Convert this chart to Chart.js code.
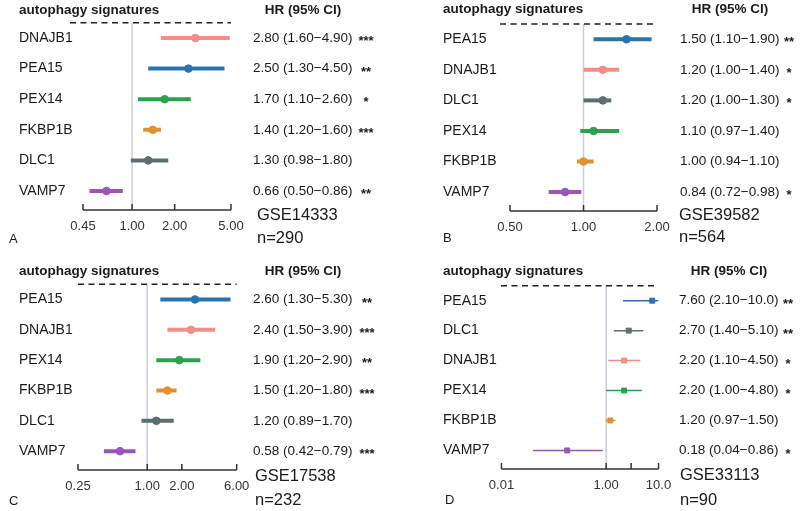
<!DOCTYPE html>
<html>
<head>
<meta charset="utf-8">
<script src="https://cdn.jsdelivr.net/npm/chart.js@4.4.0/dist/chart.umd.min.js"></script>
<style>
  html, body { margin: 0; padding: 0; background: #fff; }
  #wrap { position: relative; width: 800px; height: 511px; }
  canvas { position: absolute; }
</style>
</head>
<body>
<div id="wrap">
  <canvas id="chartA" width="400" height="255" style="left:0;top:0"></canvas>
  <canvas id="chartB" width="400" height="255" style="left:400px;top:0"></canvas>
  <canvas id="chartC" width="400" height="256" style="left:0;top:255px"></canvas>
  <canvas id="chartD" width="400" height="256" style="left:400px;top:255px"></canvas>
</div>
<script>
// A - GSE14333
const genesA = ["DNAJB1", "PEA15", "PEX14", "FKBP1B", "DLC1", "VAMP7"];
const hrA    = [2.80, 2.50, 1.70, 1.40, 1.30, 0.66];
const lowA   = [1.60, 1.30, 1.10, 1.20, 0.98, 0.50];
const highA  = [4.90, 4.50, 2.60, 1.60, 1.80, 0.86];
const starsA = ["***", "**", "*", "***", "", "**"];
const ticksA = [0.45, 1, 2, 5];
const tickLabelsA = ["0.45", "1.00", "2.00", "5.00"];

// B - GSE39582
const genesB = ["PEA15", "DNAJB1", "DLC1", "PEX14", "FKBP1B", "VAMP7"];
const hrB    = [1.50, 1.20, 1.20, 1.10, 1.00, 0.84];
const lowB   = [1.10, 1.00, 1.00, 0.97, 0.94, 0.72];
const highB  = [1.90, 1.40, 1.30, 1.40, 1.10, 0.98];
const starsB = ["**", "*", "*", "", "", "*"];
const ticksB = [0.5, 1, 2];
const tickLabelsB = ["0.50", "1.00", "2.00"];

// C - GSE17538
const genesC = ["PEA15", "DNAJB1", "PEX14", "FKBP1B", "DLC1", "VAMP7"];
const hrC    = [2.60, 2.40, 1.90, 1.50, 1.20, 0.58];
const lowC   = [1.30, 1.50, 1.20, 1.20, 0.89, 0.42];
const highC  = [5.30, 3.90, 2.90, 1.80, 1.70, 0.79];
const starsC = ["**", "***", "**", "***", "", "***"];
const ticksC = [0.25, 1, 2, 6];
const tickLabelsC = ["0.25", "1.00", "2.00", "6.00"];

// D - GSE33113
const genesD = ["PEA15", "DLC1", "DNAJB1", "PEX14", "FKBP1B", "VAMP7"];
const hrD    = [7.60, 2.70, 2.20, 2.20, 1.20, 0.18];
const lowD   = [2.10, 1.40, 1.10, 1.00, 0.97, 0.04];
const highD  = [10.0, 5.10, 4.50, 4.80, 1.50, 0.86];
const starsD = ["**", "**", "*", "*", "", "*"];
const ticksD = [0.01, 1, 3, 10];
const tickLabelsD = ["0.01", "1.00", "", "10.0"];

const FONT = '"Liberation Sans", Arial, sans-serif';
const geneColor = {
  DNAJB1: "#f28e86", PEA15: "#2a72b0", PEX14: "#2ba24e",
  FKBP1B: "#e0922f", DLC1: "#5e6e70", VAMP7: "#9b55b8"
};
const fmt = v => v >= 10 ? v.toFixed(1) : v.toFixed(2);

function forestDecor(d, box) {
  return {
    id: "forestDecor",
    beforeDatasetsDraw(chart) {
      const { ctx, chartArea: a, scales: { x } } = chart;
      ctx.save();
      // line of no effect
      const x1 = x.getPixelForValue(1);
      ctx.strokeStyle = "#c9d0da";
      ctx.lineWidth = 1.5;
      ctx.beginPath(); ctx.moveTo(x1, a.top); ctx.lineTo(x1, a.bottom); ctx.stroke();
      // dashed rule under the header
      ctx.strokeStyle = "#222";
      ctx.setLineDash([6, 4.5]);
      ctx.beginPath(); ctx.moveTo(box.dashFrom, a.top); ctx.lineTo(a.right, a.top); ctx.stroke();
      ctx.setLineDash([]);
      // x axis with upward ticks
      ctx.strokeStyle = "#333";
      ctx.beginPath(); ctx.moveTo(a.left, a.bottom); ctx.lineTo(a.right, a.bottom); ctx.stroke();
      ctx.fillStyle = "#333";
      ctx.font = "13px " + FONT;
      ctx.textAlign = "center";
      ctx.textBaseline = "middle";
      d.ticks.forEach((t, i) => {
        const px = x.getPixelForValue(t);
        ctx.beginPath(); ctx.moveTo(px, a.bottom - 6); ctx.lineTo(px, a.bottom); ctx.stroke();
        ctx.fillText(d.tickLabels[i], px, a.bottom + 16);
      });
      ctx.restore();
    },
    afterDraw(chart) {
      const { ctx, scales: { y } } = chart;
      ctx.save();
      ctx.fillStyle = "#1a1a1a";
      ctx.textBaseline = "middle";
      // headers
      ctx.font = "bold 13.5px " + FONT;
      ctx.textAlign = "left";
      ctx.fillText("autophagy signatures", box.labelX, box.headY);
      ctx.textAlign = "center";
      ctx.fillText("HR (95% CI)", box.hrX + 50, box.headY);
      // rows
      d.genes.forEach((g, i) => {
        const py = y.getPixelForValue(i + 1);
        ctx.textAlign = "left";
        ctx.font = "14px " + FONT;
        ctx.fillText(g, box.labelX, py);
        ctx.font = "13.5px " + FONT;
        ctx.fillText(fmt(d.hr[i]) + " (" + fmt(d.low[i]) + "\u2212" + fmt(d.high[i]) + ")", box.hrX, py);
        ctx.textAlign = "center";
        ctx.font = "bold 13px " + FONT;
        ctx.fillText(d.stars[i], box.starX, py + 3.5);
      });
      // dataset name, sample size, panel letter
      ctx.textAlign = "left";
      ctx.font = "16.5px " + FONT;
      ctx.fillText(d.gse, box.gseX, box.gseY);
      ctx.fillText(d.n, box.gseX, box.nY);
      ctx.font = "13px " + FONT;
      ctx.fillText(d.letter, box.letterX, box.letterY);
      ctx.restore();
    }
  };
}

function drawPanel(id, d, box) {
  const canvas = document.getElementById(id);
  const W = canvas.width, H = canvas.height;
  const datasets = d.genes.map((g, i) => ({
    data: [{ x: d.low[i], y: i + 1 }, { x: d.hr[i], y: i + 1 }, { x: d.high[i], y: i + 1 }],
    borderColor: geneColor[g],
    backgroundColor: geneColor[g],
    borderWidth: box.lineW,
    pointRadius: [0, box.pointR, 0],
    pointHoverRadius: 0,
    pointStyle: box.pointStyle,
    pointBorderWidth: 1
  }));
  new Chart(canvas, {
    type: "line",
    data: { datasets },
    options: {
      responsive: false,
      animation: false,
      layout: { padding: { left: box.left, right: W - box.right, top: box.top, bottom: H - box.bottom } },
      scales: {
        x: { type: "logarithmic", min: d.ticks[0], max: d.ticks[d.ticks.length - 1], display: false },
        y: { type: "linear", min: 0.5, max: 6.62, reverse: true, display: false }
      },
      plugins: { legend: { display: false }, tooltip: { enabled: false } }
    },
    plugins: [forestDecor(d, box)]
  });
}

drawPanel("chartA",
  { genes: genesA, hr: hrA, low: lowA, high: highA, stars: starsA, ticks: ticksA, tickLabels: tickLabelsA, gse: "GSE14333", n: "n=290", letter: "A" },
  { left: 83, right: 231, top: 22.7, bottom: 210, labelX: 19, headY: 10, hrX: 253, starX: 366, gseX: 257, gseY: 215, nY: 238, letterX: 9, letterY: 239, dashFrom: 70, lineW: 4, pointR: 3.8, pointStyle: "circle" });

drawPanel("chartB",
  { genes: genesB, hr: hrB, low: lowB, high: highB, stars: starsB, ticks: ticksB, tickLabels: tickLabelsB, gse: "GSE39582", n: "n=564", letter: "B" },
  { left: 110, right: 257, top: 24, bottom: 211, labelX: 43, headY: 9.5, hrX: 280, starX: 389, gseX: 279, gseY: 215, nY: 237, letterX: 43, letterY: 238, dashFrom: 100, lineW: 4, pointR: 3.8, pointStyle: "circle" });

drawPanel("chartC",
  { genes: genesC, hr: hrC, low: lowC, high: highC, stars: starsC, ticks: ticksC, tickLabels: tickLabelsC, gse: "GSE17538", n: "n=232", letter: "C" },
  { left: 78, right: 236.7, top: 29.3, bottom: 215, labelX: 19, headY: 16, hrX: 253, starX: 367, gseX: 255, gseY: 221, nY: 245, letterX: 9, letterY: 246, dashFrom: 78, lineW: 4, pointR: 3.8, pointStyle: "circle" });

drawPanel("chartD",
  { genes: genesD, hr: hrD, low: lowD, high: highD, stars: starsD, ticks: ticksD, tickLabels: tickLabelsD, gse: "GSE33113", n: "n=90", letter: "D" },
  { left: 101.5, right: 258.5, top: 30.7, bottom: 214, labelX: 43, headY: 16, hrX: 279, starX: 388, gseX: 280, gseY: 220, nY: 245, letterX: 45, letterY: 245, dashFrom: 101, lineW: 1.5, pointR: 3.5, pointStyle: "rect" });
</script>
</body>
</html>
